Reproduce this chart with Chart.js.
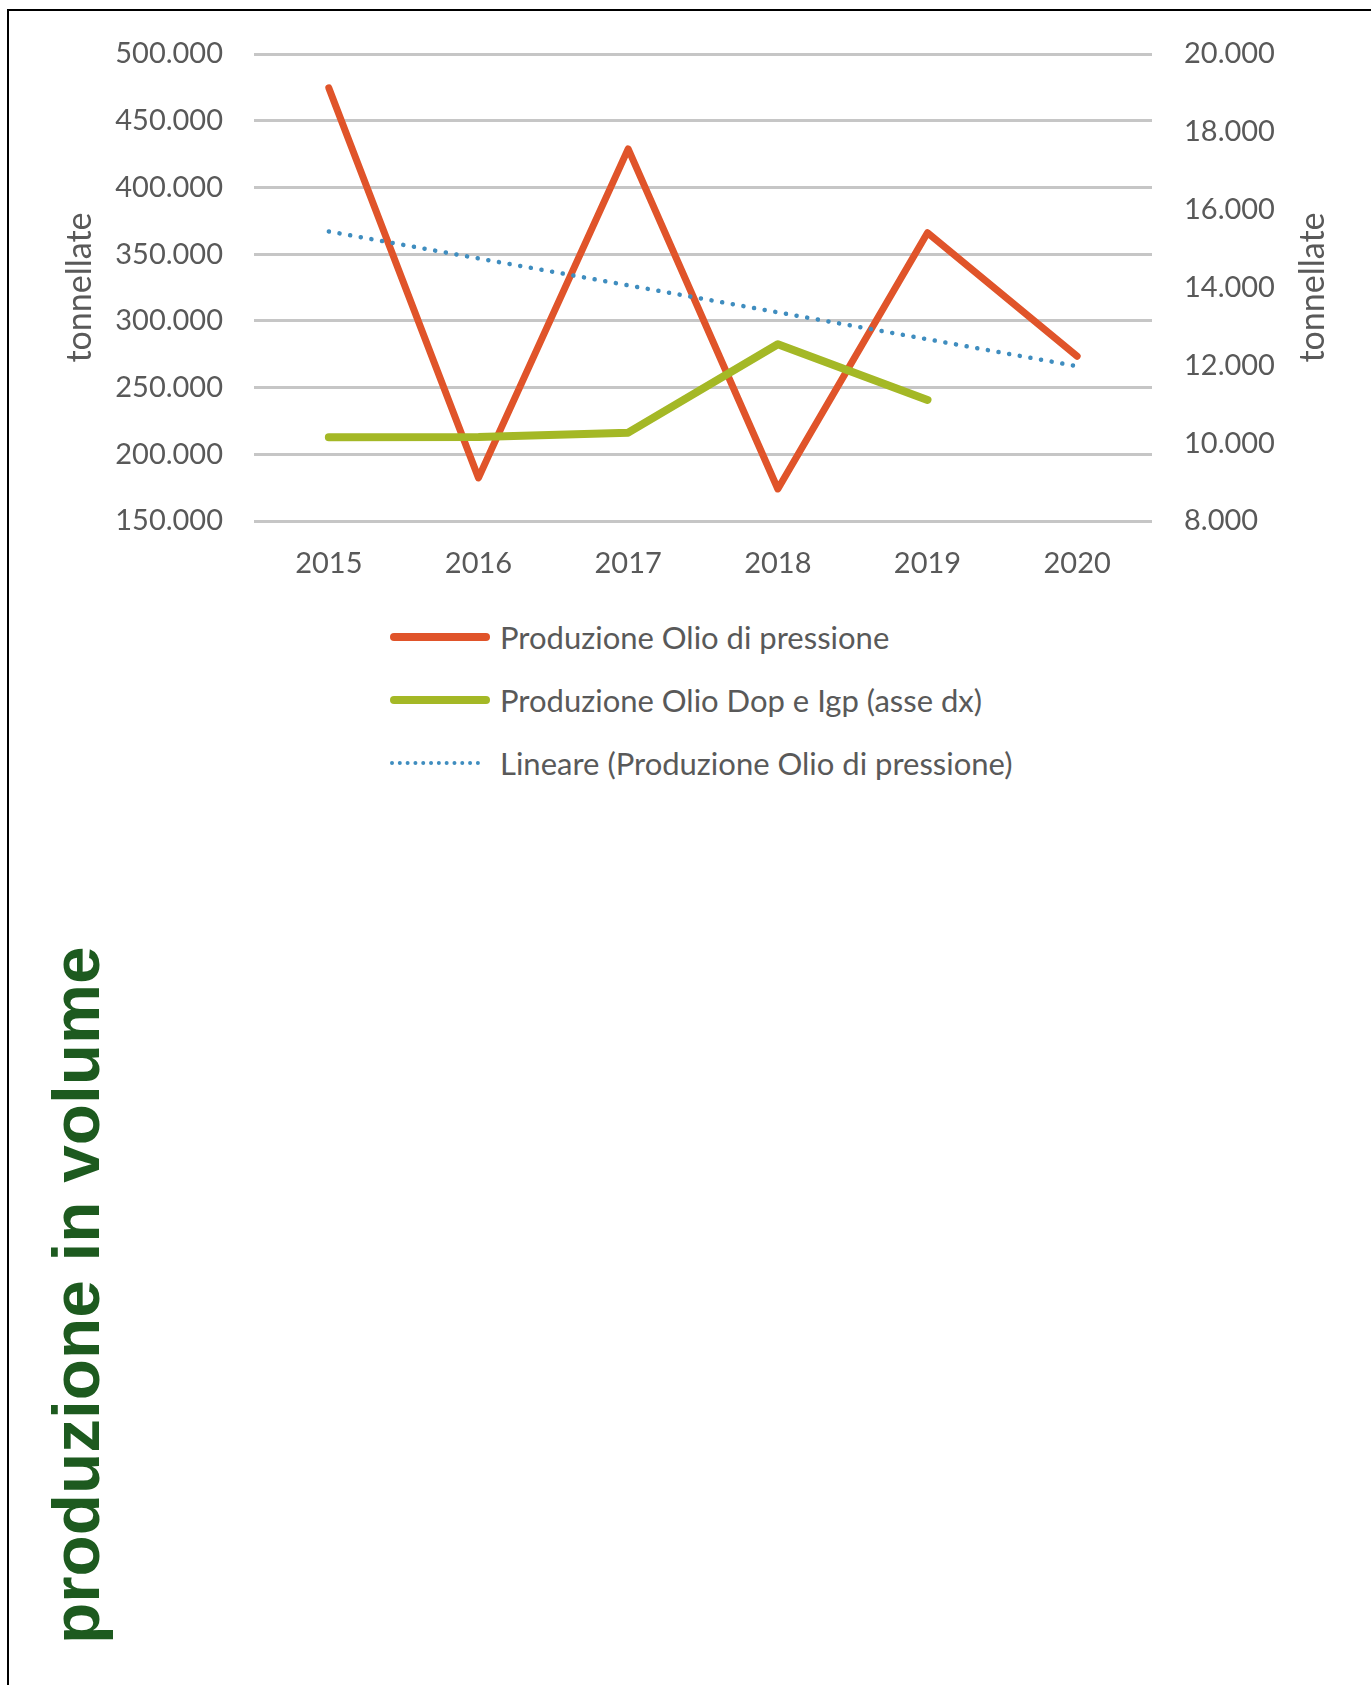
<!DOCTYPE html>
<html>
<head>
<meta charset="utf-8">
<script src="https://cdn.jsdelivr.net/npm/chart.js@4/dist/chart.umd.min.js"></script>
<style>
  html, body { margin: 0; padding: 0; background: #fff; }
  body { width: 1371px; height: 1685px; position: relative; overflow: hidden; }
  #frame { position: absolute; left: 7px; top: 9px; right: -10px; bottom: -10px;
           border-top: 2px solid #000; border-left: 2px solid #000; }
  #wrap { position: absolute; left: 0; top: 0; width: 1371px; height: 600px; }
  #legend { position: absolute; left: 390px; top: 605px; font-family: Lato, sans-serif;
            font-size: 31px; color: #595959; }
  .item { position: relative; height: 63px; }
  .sample { position: absolute; left: 0; width: 100px; height: 0; }
  .label { position: absolute; left: 110px; top: 12px; height: 40px; line-height: 40px; white-space: nowrap; }
  #bigTitle { position: absolute; left: 42px; top: 1644px; transform-origin: 0 0;
              transform: rotate(-90deg); white-space: nowrap;
              font-family: "Liberation Sans", Arial, sans-serif; font-weight: bold;
              font-size: 67.5px; line-height: 1; color: #1d5a1f; }
</style>
</head>
<body>
<div id="frame"></div>
<div id="wrap"><canvas id="c" width="1371" height="600"></canvas></div>
<div id="legend"></div>
<div id="bigTitle">produzione in volume</div>
<script>
const years = ['2015', '2016', '2017', '2018', '2019', '2020'];
const oilPressure = [474600, 182300, 428900, 174000, 366000, 273500];
const oilDopIgp = [10150, 10160, 10270, 12540, 11110, null];
const trendPressure = [367000, null, null, null, null, 266000];
const seriesNames = ['Produzione Olio di pressione', 'Produzione Olio Dop e Igp (asse dx)', 'Lineare (Produzione Olio di pressione)'];
const axisTitle = 'tonnellate';
const leftTicks = { min: 150000, max: 500000, step: 50000 };
const rightTicks = { min: 8000, max: 20000, step: 2000 };

const RED = '#e0542a', GREEN = '#a4b826', BLUE = '#3f8dbf', GREY = '#595959';
const fmt = v => String(v).replace(/\B(?=(\d{3})+(?!\d))/g, '.');
const tickFont = { family: 'Lato', size: 29 };
const titleFont = { family: 'Lato', size: 34 };

const rightTitle = {
  id: 'rightTitle',
  afterDraw(chart) {
    const ctx = chart.ctx, a = chart.chartArea;
    ctx.save();
    ctx.translate(1313, (a.top + a.bottom) / 2);
    ctx.rotate(-Math.PI / 2);
    ctx.font = titleFont.size + 'px ' + titleFont.family;
    ctx.fillStyle = GREY;
    ctx.textAlign = 'center';
    ctx.textBaseline = 'middle';
    ctx.fillText(axisTitle, 0, 0);
    ctx.restore();
  }
};

const chart = new Chart(document.getElementById('c'), {
  type: 'line',
  data: {
    labels: years,
    datasets: [
      { label: seriesNames[0], data: oilPressure, yAxisID: 'y', borderColor: RED,
        borderWidth: 7, borderJoinStyle: 'round', borderCapStyle: 'round', pointRadius: 0, order: 3, tension: 0 },
      { label: seriesNames[1], data: oilDopIgp, yAxisID: 'y1', borderColor: GREEN,
        borderWidth: 8, borderJoinStyle: 'round', borderCapStyle: 'round', pointRadius: 0, order: 2, tension: 0 },
      { label: seriesNames[2], data: trendPressure, yAxisID: 'y', borderColor: BLUE, spanGaps: true,
        borderWidth: 4.5, borderDash: [0.1, 10.7], borderCapStyle: 'round', pointRadius: 0, order: 1 }
    ]
  },
  options: {
    responsive: false,
    animation: false,
    events: [],
    layout: { padding: { top: 54, right: 0, bottom: 0, left: 0 } },
    plugins: { legend: { display: false }, tooltip: { enabled: false } },
    scales: {
      x: {
        offset: true,
        grid: { display: false, drawTicks: false },
        border: { display: false },
        ticks: { font: tickFont, color: GREY, padding: 25 },
        afterFit: s => { s.height = 79; }
      },
      y: {
        position: 'left',
        min: leftTicks.min, max: leftTicks.max,
        grid: { color: '#c6c6c6', lineWidth: 3, drawTicks: false },
        border: { display: false },
        ticks: { stepSize: leftTicks.step, font: tickFont, color: GREY, padding: 31, callback: v => fmt(v) },
        title: { display: true, text: axisTitle, font: titleFont, color: GREY, padding: { top: 60, bottom: 0 } },
        afterFit: s => { s.width = 254; }
      },
      y1: {
        position: 'right',
        min: rightTicks.min, max: rightTicks.max,
        grid: { display: false, drawTicks: false },
        border: { display: false },
        ticks: { stepSize: rightTicks.step, font: tickFont, color: GREY, padding: 32, callback: v => fmt(v) },
        afterFit: s => { s.width = 219; }
      }
    }
  },
  plugins: [rightTitle]
});

// HTML legend built from the datasets
const legend = document.getElementById('legend');
chart.data.datasets.forEach((ds, i) => {
  const item = document.createElement('div');
  item.className = 'item';
  const sample = document.createElement('div');
  sample.className = 'sample';
  if (i < 2) {
    sample.style.borderTop = '8px solid ' + ds.borderColor;
    sample.style.borderRadius = '4px';
    sample.style.top = '28px';
  } else {
    sample.style.borderTop = '4px dotted ' + ds.borderColor;
    sample.style.width = '90px';
    sample.style.top = '30px';
  }
  const label = document.createElement('div');
  label.className = 'label';
  label.textContent = ds.label;
  item.appendChild(sample);
  item.appendChild(label);
  legend.appendChild(item);
});
</script>
</body>
</html>
